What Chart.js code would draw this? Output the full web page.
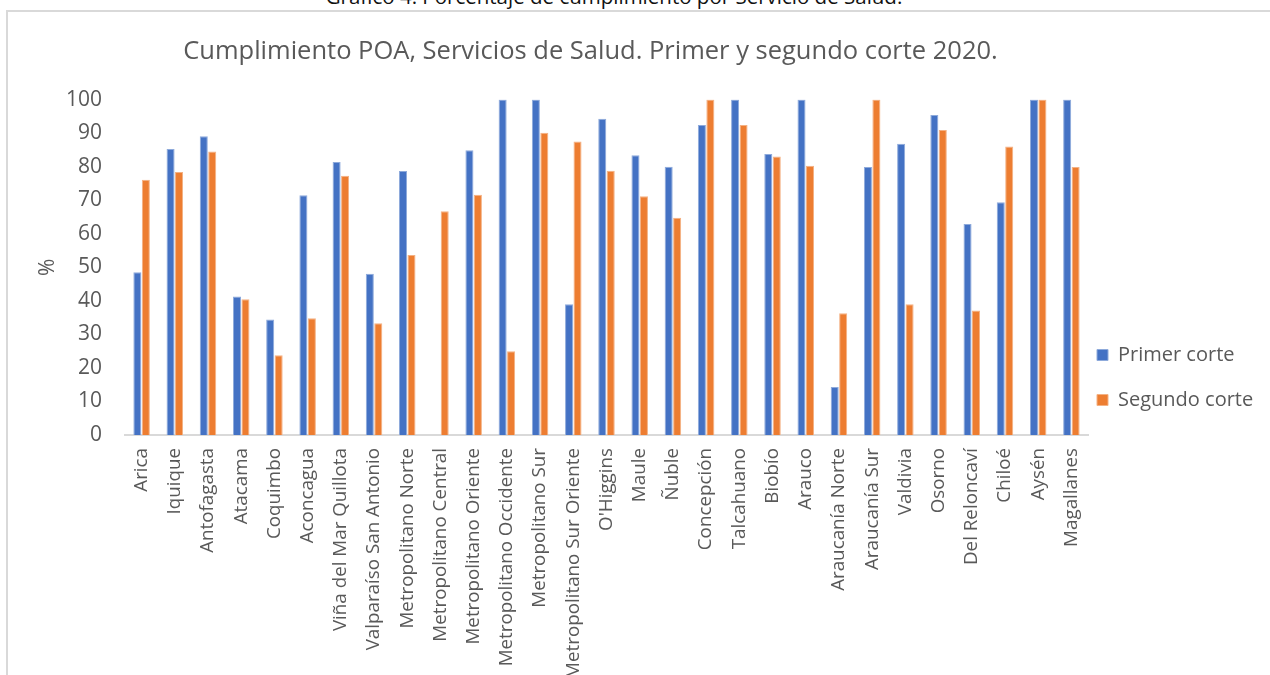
<!DOCTYPE html>
<html>
<head>
<meta charset="utf-8">
<script src="https://cdn.jsdelivr.net/npm/chart.js@4/dist/chart.umd.min.js"></script>
<style>
  html, body { margin: 0; padding: 0; width: 1270px; height: 675px; overflow: hidden; background: #ffffff; }
  #caption { position: absolute; left: 0; width: 1228px; top: -14px; text-align: center;
    font-family: "Open Sans", sans-serif; font-size: 20.5px; line-height: 20px; color: #111; white-space: nowrap; }
  #frame { position: absolute; left: 6px; top: 10px; width: 1300px; height: 720px; border: 2px solid #d9d9d9; box-sizing: border-box; }
  #wrap { position: absolute; left: 8px; top: 12px; width: 1262px; height: 720px; }
</style>
</head>
<body>
<div id="caption">Gráfico 4. Porcentaje de cumplimiento por Servicio de Salud.</div>
<div id="frame"></div>
<div id="wrap"><canvas id="c" width="1262" height="720"></canvas></div>
<script>
const categories = ["Arica", "Iquique", "Antofagasta", "Atacama", "Coquimbo", "Aconcagua",
  "Viña del Mar Quillota", "Valparaíso San Antonio", "Metropolitano Norte", "Metropolitano Central",
  "Metropolitano Oriente", "Metropolitano Occidente", "Metropolitano Sur", "Metropolitano Sur Oriente",
  "O'Higgins", "Maule", "Ñuble", "Concepción", "Talcahuano", "Biobío", "Arauco", "Araucanía Norte",
  "Araucanía Sur", "Valdivia", "Osorno", "Del Reloncaví", "Chiloé", "Aysén", "Magallanes"];
const primerCorte = [48.5, 85.3, 89.1, 41.3, 34.4, 71.5, 81.4, 48.1, 78.7, null, 84.9, 100, 100, 39.0,
  94.3, 83.4, 80.0, 92.4, 100, 83.8, 100, 14.3, 79.9, 86.8, 95.4, 62.9, 69.4, 100, 100];
const segundoCorte = [76.1, 78.4, 84.5, 40.5, 23.8, 34.8, 77.3, 33.3, 53.7, 66.7, 71.6, 25.0, 90.1, 87.5,
  78.8, 71.2, 64.8, 100, 92.4, 83.0, 80.3, 36.3, 100, 39.0, 90.9, 37.1, 86.0, 100, 79.9];
const seriesNames = ["Primer corte", "Segundo corte"];
const yTicks = [0, 10, 20, 30, 40, 50, 60, 70, 80, 90, 100];
const chartTitle = "Cumplimiento POA, Servicios de Salud. Primer y segundo corte 2020.";
const yTitle = "%";

const textGray = "#595959";
const FONT = "'Open Sans', sans-serif";

const shiftPlugin = {
  id: 'shiftBoxes',
  afterLayout(chart) {
    const dx = -16;
    if (chart.legend) { chart.legend.left += dx; chart.legend.right += dx; }
    if (chart.titleBlock) { chart.titleBlock.left += dx; chart.titleBlock.right += dx; }
  }
};

new Chart(document.getElementById('c'), {
  type: 'bar',
  data: {
    labels: categories,
    datasets: [
      { label: seriesNames[0], data: primerCorte, backgroundColor: '#4472C4', borderColor: '#8eaadb', borderWidth: 1 },
      { label: seriesNames[1], data: segundoCorte, backgroundColor: '#ED7D31', borderColor: '#f4b183', borderWidth: 1 }
    ]
  },
  options: {
    responsive: false,
    animation: false,
    events: [],
    layout: { padding: { left: 27, right: 0, top: 0, bottom: 0 } },
    datasets: { bar: { categoryPercentage: 0.51, barPercentage: 0.95 } },
    plugins: {
      tooltip: { enabled: false },
      title: {
        display: true, text: chartTitle, fullSize: false, color: textGray,
        font: { family: FONT, size: 25.5, weight: 'normal', lineHeight: 1.2 },
        padding: { top: 24, bottom: 33 }
      },
      legend: {
        display: true, position: 'right', align: 'end', fullSize: false, maxWidth: 182,
        labels: {
          color: textGray, boxWidth: 11, boxHeight: 11, padding: 25,
          font: { family: FONT, size: 20 }
        }
      }
    },
    scales: {
      x: {
        grid: { display: false },
        border: { display: true, color: '#d9d9d9', width: 2 },
        ticks: {
          autoSkip: false, maxRotation: 90, minRotation: 90, padding: 5,
          color: textGray, font: { family: FONT, size: 18.8 }
        },
        afterFit(scale) { scale.height = 720 - 423; }
      },
      y: {
        min: 0, max: 100,
        grid: { display: false },
        border: { display: false },
        afterBuildTicks(scale) { scale.ticks = yTicks.map(v => ({ value: v })); },
        ticks: { padding: 15, color: textGray, font: { family: FONT, size: 21 } },
        title: { display: true, text: yTitle, color: textGray, font: { family: FONT, size: 21 }, padding: 0 },
        afterFit(scale) { scale.width = 117 - 27; }
      }
    }
  },
  plugins: [shiftPlugin]
});
</script>
</body>
</html>
